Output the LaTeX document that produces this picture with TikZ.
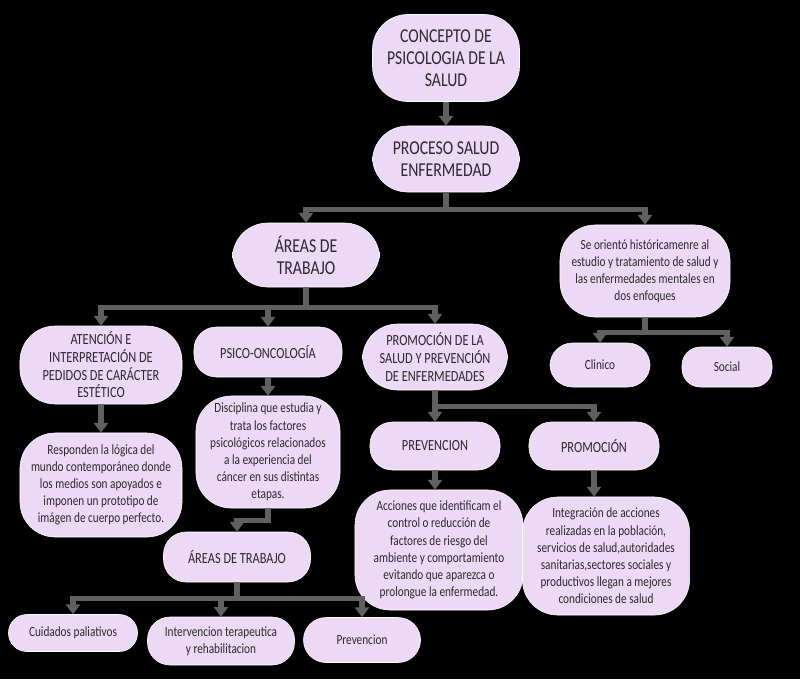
\documentclass[tikz,border=0pt]{standalone}
\usepackage{fontspec}
\setmainfont{Carlito}[FakeStretch=0.8]
\usetikzlibrary{arrows.meta}

\definecolor{boxlila}{RGB}{236,217,245}
\definecolor{linkgris}{RGB}{96,96,96}
\definecolor{textgris}{RGB}{45,40,50}

\begin{document}
\begin{tikzpicture}[x=0.025cm, y=-0.025cm,
	caja/.style={fill=boxlila, draw=white, thin, rounded corners=13pt, align=center, inner sep=0pt, text=textgris},
	ovalada/.style={rounded corners=16pt},
	redonda/.style={rounded corners=25pt},
	grande/.style={font=\fontsize{14}{15.6}\selectfont},
	media/.style={font=\fontsize{11}{12.6}\selectfont},
	chica/.style={font=\fontsize{10}{12.2}\selectfont},
	linea/.style={linkgris, line width=3.8pt},
	flecha/.style={linea, -{Triangle[length=7pt,width=10pt]}}]
			% Background
			\fill[black] (0,0) rectangle (800,679);
			
			% Top levels
			\node[caja, grande, redonda, minimum width=3.675cm, minimum height=2.175cm] (concepto) at (446,58) {CONCEPTO DE\\PSICOLOGIA DE LA\\SALUD};
			\node[caja, grande, redonda, minimum width=3.675cm, minimum height=1.65cm] (proceso) at (446,159) {PROCESO SALUD\\ENFERMEDAD};
			\node[caja, grande, redonda, minimum width=3.675cm, minimum height=1.6cm] (areas) at (306,255) {ÁREAS DE\\TRABAJO};
			\node[caja, chica, redonda, minimum width=4.25cm, minimum height=2.3cm] (orienta) at (645,271) {Se orientó históricamenre al\\estudio y tratamiento de salud y\\las enfermedades mentales en\\dos enfoques};
			
			% Areas de trabajo
			\node[caja, media, redonda, minimum width=4.05cm, minimum height=1.95cm] (atencion) at (101,365) {ATENCIÓN E\\INTERPRETACIÓN DE\\PEDIDOS DE CARÁCTER\\ESTÉTICO};
			\node[caja, media, ovalada, minimum width=3.7cm, minimum height=1.25cm] (psico) at (268,352) {PSICO-ONCOLOGÍA};
			\node[caja, media, redonda, minimum width=3.625cm, minimum height=1.65cm] (promo) at (435,357) {PROMOCIÓN DE LA\\SALUD Y PREVENCIÓN\\DE ENFERMEDADES};
			
			% Enfoques
			\node[caja, chica, ovalada, minimum width=2.5cm, minimum height=1.1cm] (clinico) at (600,365) {Clinico};
			\node[caja, chica, minimum width=2.25cm, minimum height=1.0cm] (social) at (727,367) {Social};
			
			% Descripciones
			\node[caja, chica, redonda, minimum width=4.05cm, minimum height=2.6cm] (responden) at (101,485) {Responden la lógica del\\mundo contemporáneo donde\\los medios son apoyados e\\imponen un prototipo de\\imágen de cuerpo perfecto.};
			\node[caja, chica, redonda, minimum width=3.6cm, minimum height=2.8cm] (disciplina) at (268,452) {Disciplina que estudia y\\trata los factores\\psicológicos relacionados\\a la experiencia del\\cáncer en sus distintas\\etapas.};
			\node[caja, media, ovalada, minimum width=3.675cm, minimum height=1.25cm] (areasdos) at (237,557) {ÁREAS DE TRABAJO};
			
			% Psico-oncologia areas
			\node[caja, chica, minimum width=3.225cm, minimum height=0.925cm] (cuidados) at (73,633) {Cuidados paliativos};
			\node[caja, chica, ovalada, minimum width=3.675cm, minimum height=1.2cm] (interv) at (221,641) {Intervencion terapeutica\\y rehabilitacion};
			\node[caja, chica, ovalada, minimum width=2.925cm, minimum height=1.125cm] (prevdos) at (362,640) {Prevencion};
			
			% Promocion y prevencion
			\node[caja, media, ovalada, minimum width=3.25cm, minimum height=1.2cm] (prevencion) at (435,446) {PREVENCION};
			\node[caja, media, ovalada, minimum width=3.25cm, minimum height=1.2cm] (promocion) at (594,446) {PROMOCIÓN};
			\node[caja, chica, redonda, minimum width=4.2cm, minimum height=3.0cm] (acciones) at (439,550) {Acciones que identificam el\\control o reducción de\\factores de riesgo del\\ambiente y comportamiento\\evitando que aparezca o\\prolongue la enfermedad.};
			\node[caja, chica, redonda, minimum width=4.175cm, minimum height=2.95cm] (integracion) at (606,556) {Integración de acciones\\realizadas en la población,\\servicios de salud,autoridades\\sanitarias,sectores sociales y\\productivos llegan a mejores\\condiciones de salud};
			
			% Connectors
			\draw[flecha] (concepto) -- (proceso);
			\draw[linea] (proceso.south) -- ++(0,17) coordinate (jproceso);
			\draw[flecha] (jproceso) -| (areas.north);
			\draw[flecha] (jproceso) -| (orienta.north);
			
			\draw[linea] (areas.south) -- ++(0,20) coordinate (jareas);
			\draw[flecha] (jareas) -| (atencion.north);
			\draw[flecha] (jareas) -| (psico.north);
			\draw[flecha] (jareas) -| (promo.north);
			
			\draw[linea] (orienta.south) -- ++(0,15) coordinate (jorienta);
			\draw[flecha] (jorienta) -| (clinico.north);
			\draw[flecha] (jorienta) -| (social.north);
			
			\draw[flecha] (atencion) -- (responden);
			\draw[flecha] (psico) -- (disciplina);
			\draw[flecha] (disciplina.south) -- ++(0,12) -| (areasdos.north);
			
			\draw[linea] (areasdos.south) -- ++(0,16) coordinate (jareasdos);
			\draw[flecha] (jareasdos) -| (cuidados.north);
			\draw[flecha] (jareasdos) -| (interv.north);
			\draw[flecha] (jareasdos) -| (prevdos.north);
			
			\draw[linea] (promo.south) -- ++(0,16) coordinate (jpromo);
			\draw[flecha] (jpromo) -- (prevencion.north);
			\draw[flecha] (jpromo) -| (promocion.north);
			\draw[flecha] (prevencion.south) -- (prevencion.south |- acciones.north);
			\draw[flecha] (promocion.south) -- (promocion.south |- integracion.north);
			
		\end{tikzpicture}
\end{document}
